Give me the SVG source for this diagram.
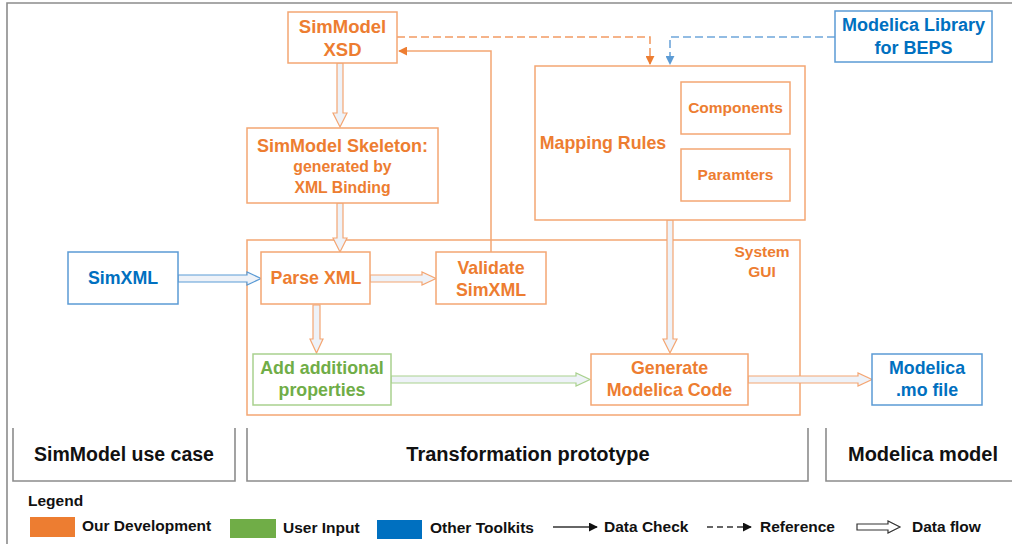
<svg xmlns="http://www.w3.org/2000/svg" width="1012" height="544" viewBox="0 0 1012 544">
  <defs>
    <style>
      .frame { fill: none; stroke: #8c8c8c; stroke-width: 1.6; }
      .ob { fill: #ffffff; stroke: #F4A673; stroke-width: 1.5; }
      .gb { fill: #ffffff; stroke: #A9D18E; stroke-width: 1.5; }
      .bb { fill: #ffffff; stroke: #5B9BD5; stroke-width: 1.5; }
      .grp { fill: none; stroke: #F4A673; stroke-width: 1.5; }
      .t { font-family: "Liberation Sans", Arial, sans-serif; font-weight: bold; text-anchor: middle; }
      .to { fill: #ED7D31; }
      .tg { fill: #70AD47; }
      .tb { fill: #0070C0; }
      .tk { fill: #111111; }
      .flow-o { fill: #EEF2F8; stroke: #F4A673; stroke-width: 1.2; }
      .flow-g { fill: #EEF2F8; stroke: #A9D18E; stroke-width: 1.2; }
      .flow-b { fill: #EEF2F8; stroke: #5B9BD5; stroke-width: 1.2; }
      .flow-k { fill: #ffffff; stroke: #333333; stroke-width: 1.2; }
      .check { fill: none; stroke: #F4A673; stroke-width: 1.5; }
      .ref-o { fill: none; stroke: #F29B63; stroke-width: 1.6; stroke-dasharray: 8 4; }
      .ref-b { fill: none; stroke: #6FA6DA; stroke-width: 1.6; stroke-dasharray: 8 4; }
      .leg { font-family: "Liberation Sans", Arial, sans-serif; font-weight: bold; font-size: 15.5px; fill: #111111; }
    </style>
    <marker id="head-o" viewBox="0 0 10 10" refX="9" refY="5" markerWidth="9" markerHeight="9" markerUnits="userSpaceOnUse" orient="auto">
      <path d="M0,0 L10,5 L0,10 Z" fill="#ED7D31"/>
    </marker>
    <marker id="head-b" viewBox="0 0 10 10" refX="9" refY="5" markerWidth="9" markerHeight="9" markerUnits="userSpaceOnUse" orient="auto">
      <path d="M0,0 L10,5 L0,10 Z" fill="#5B9BD5"/>
    </marker>
    <marker id="head-k" viewBox="0 0 10 10" refX="9" refY="5" markerWidth="9" markerHeight="9" markerUnits="userSpaceOnUse" orient="auto">
      <path d="M0,0 L10,5 L0,10 Z" fill="#111111"/>
    </marker>
  </defs>

  <rect x="0" y="0" width="1012" height="544" fill="#ffffff"/>

  <!-- outer frame -->
  <path class="frame" d="M7,544 V3 H1012"/>

  <!-- system GUI container -->
  <g id="system-gui">
    <rect class="grp" x="247" y="240" width="553" height="175"/>
    <text class="t to" font-size="15.5" x="762" y="257">System</text>
    <text class="t to" font-size="15.5" x="762" y="277">GUI</text>
  </g>

  <!-- connectors -->
  <g id="connectors">
    <!-- references -->
    <path class="ref-o" d="M397,37 H650 V64" marker-end="url(#head-o)"/>
    <path class="ref-b" d="M835,37 H670 V64" marker-end="url(#head-b)"/>
    <!-- data check: validate back to XSD -->
    <path class="check" d="M491,252 V51 H399" marker-end="url(#head-o)"/>
    <!-- data flows -->
    <path class="flow-o" d="M337,63 H343 V113 H347 L340,127 L333,113 H337 Z"/>
    <path class="flow-o" d="M337,203 H343 V238 H347 L340,252 L333,238 H337 Z"/>
    <path class="flow-b" d="M178,275 H247 V272 L261,278.5 L247,285 V282 H178 Z"/>
    <path class="flow-o" d="M370,275 H422 V272 L436,278.5 L422,285 V282 H370 Z"/>
    <path class="flow-o" d="M313,305 H320 V339 H323 L316.5,353 L310,339 H313 Z"/>
    <path class="flow-g" d="M391,376 H576 V373 L590,379.5 L576,386 V383 H391 Z"/>
    <path class="flow-o" d="M667,220 H673 V339 H677 L670,353 L663,339 H667 Z"/>
    <path class="flow-o" d="M748,376 H858 V373 L872,379.5 L858,386 V383 H748 Z"/>
  </g>

  <g id="simmodel-xsd">
    <rect class="ob" x="288" y="12" width="109" height="51"/>
    <text class="t to" font-size="18.5" x="342.5" y="33">SimModel</text>
    <text class="t to" font-size="18.5" x="342.5" y="56">XSD</text>
  </g>

  <g id="simmodel-skeleton">
    <rect class="ob" x="247" y="128" width="191" height="75"/>
    <text class="t to" font-size="18" x="342.5" y="152">SimModel Skeleton:</text>
    <text class="t to" font-size="15.8" x="342.5" y="172">generated by</text>
    <text class="t to" font-size="15.8" x="342.5" y="193">XML Binding</text>
  </g>

  <g id="mapping-rules">
    <rect class="ob" x="535" y="66" width="270" height="154"/>
    <text class="t to" font-size="17.8" x="603" y="149">Mapping Rules</text>
  </g>

  <g id="components">
    <rect class="ob" x="681" y="82" width="109" height="52"/>
    <text class="t to" font-size="15.5" x="735.5" y="113">Components</text>
  </g>

  <g id="paramters">
    <rect class="ob" x="681" y="149" width="109" height="52"/>
    <text class="t to" font-size="15.5" x="735.5" y="180">Paramters</text>
  </g>

  <g id="modelica-library">
    <rect class="bb" x="835" y="11" width="157" height="51"/>
    <text class="t tb" font-size="18" x="913.5" y="31">Modelica Library</text>
    <text class="t tb" font-size="18" x="913.5" y="54">for BEPS</text>
  </g>

  <g id="simxml">
    <rect class="bb" x="68" y="252" width="110" height="52"/>
    <text class="t tb" font-size="17.8" x="123" y="284">SimXML</text>
  </g>

  <g id="parse-xml">
    <rect class="ob" x="261" y="252" width="109" height="52"/>
    <text class="t to" font-size="17.8" x="316" y="284">Parse XML</text>
  </g>

  <g id="validate-simxml">
    <rect class="ob" x="436" y="252" width="110" height="52"/>
    <text class="t to" font-size="17.8" x="491" y="274">Validate</text>
    <text class="t to" font-size="17.8" x="491" y="296">SimXML</text>
  </g>

  <g id="add-properties">
    <rect class="gb" x="253" y="354" width="138" height="51"/>
    <text class="t tg" font-size="17.8" x="322" y="374">Add additional</text>
    <text class="t tg" font-size="17.8" x="322" y="396">properties</text>
  </g>

  <g id="generate-code">
    <rect class="ob" x="591" y="354" width="157" height="51"/>
    <text class="t to" font-size="17.8" x="669.5" y="374">Generate</text>
    <text class="t to" font-size="17.8" x="669.5" y="396">Modelica Code</text>
  </g>

  <g id="modelica-mo">
    <rect class="bb" x="872" y="354" width="110" height="51"/>
    <text class="t tb" font-size="17.8" x="927" y="374">Modelica</text>
    <text class="t tb" font-size="17.8" x="927" y="396">.mo file</text>
  </g>

  <!-- phase labels -->
  <g id="phase-simmodel">
    <path class="frame" d="M13,428 V481 H235 V428"/>
    <text class="t tk" font-size="19.5" x="124" y="461">SimModel use case</text>
  </g>
  <g id="phase-transformation">
    <path class="frame" d="M247,428 V481 H808 V428"/>
    <text class="t tk" font-size="20" x="528" y="461">Transformation prototype</text>
  </g>
  <g id="phase-modelica">
    <path class="frame" d="M826,428 V481 H1013"/>
    <text class="t tk" font-size="20" x="923" y="461">Modelica model</text>
  </g>

  <!-- legend -->
  <g id="legend">
    <text class="leg" x="28" y="506">Legend</text>
    <rect x="30" y="517" width="45" height="20" fill="#ED7D31"/>
    <text class="leg" x="82" y="531">Our Development</text>
    <rect x="230" y="519" width="46" height="19" fill="#70AD47"/>
    <text class="leg" x="283" y="533">User Input</text>
    <rect x="377" y="520" width="45" height="19" fill="#0070C0"/>
    <text class="leg" x="430" y="533">Other Toolkits</text>
    <line x1="553" y1="527" x2="597" y2="527" stroke="#333333" stroke-width="1.3" marker-end="url(#head-k)"/>
    <text class="leg" x="604" y="532">Data Check</text>
    <line x1="707" y1="527" x2="751" y2="527" stroke="#333333" stroke-width="1.3" stroke-dasharray="6 4" marker-end="url(#head-k)"/>
    <text class="leg" x="760" y="532">Reference</text>
    <path class="flow-k" d="M857,524 H888 V521 L900,527 L888,533 V530 H857 Z"/>
    <text class="leg" x="912" y="532">Data flow</text>
  </g>
</svg>
